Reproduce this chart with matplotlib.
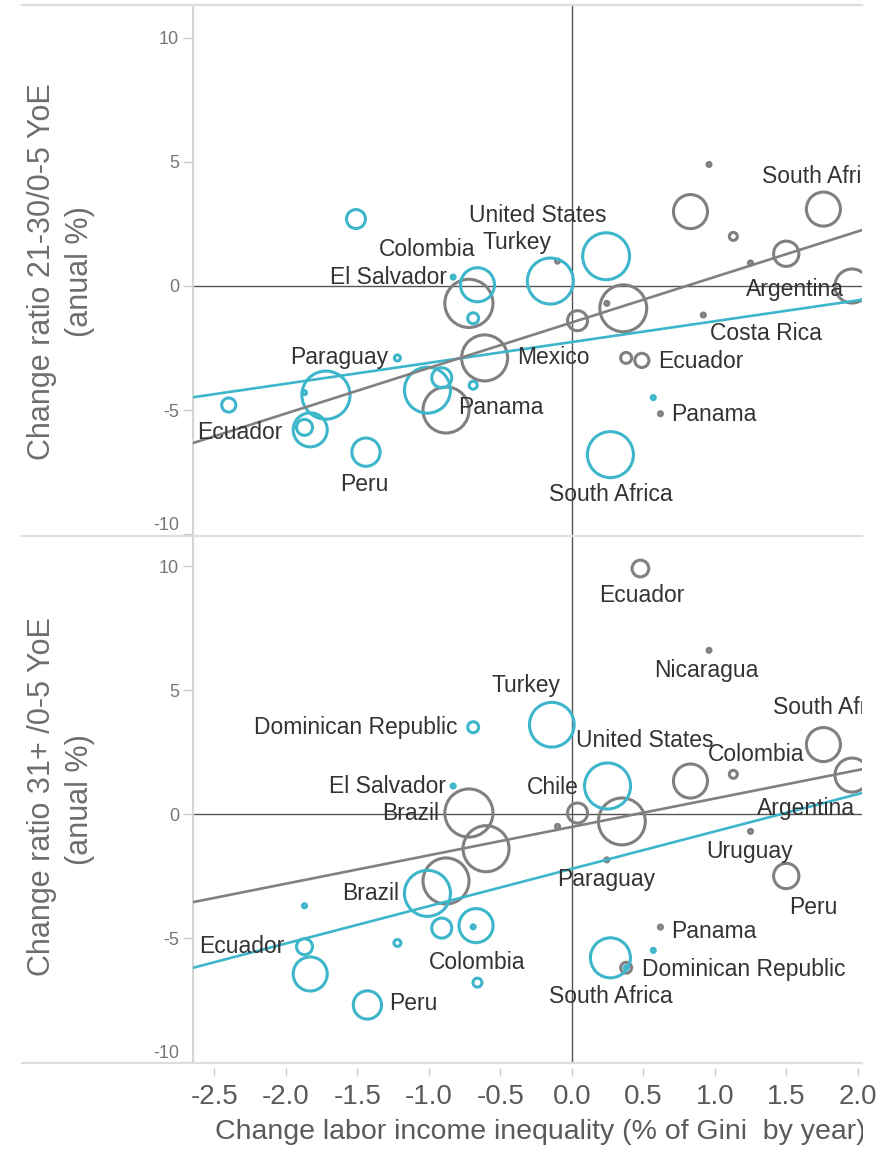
import matplotlib
matplotlib.use("Agg")
import matplotlib.pyplot as plt
import numpy as np
from matplotlib.lines import Line2D
from matplotlib.transforms import Bbox, TransformedBbox

plt.rcParams['font.family'] = ['Liberation Sans', 'DejaVu Sans']

TEAL = '#3db6cb'
GRAY = '#808080'
TEXT = '#333333'
AXIS_TEXT = '#6e6e6e'

# ---- top panel: change ratio 21-30 / 0-5 YoE ----
top_teal_x = [-2.40, -1.72, -1.87, -1.83, -1.87, -1.44, -1.22, -1.01, -0.91, -0.69,
              -0.66, -0.69, -0.83, -0.15, 0.24, -1.51, 0.57, 0.27]
top_teal_y = [-4.8, -4.4, -4.3, -5.8, -5.7, -6.7, -2.9, -4.2, -3.7, -4.0,
              0.05, -1.3, 0.36, 0.2, 1.2, 2.7, -4.5, -6.8]
top_teal_w = [0.5, 5.8, 0.04, 2.9, 0.64, 2.0, 0.09, 5.3, 1.0, 0.16,
              2.9, 0.3, 0.04, 5.3, 5.5, 0.9, 0.04, 5.3]

top_gray_x = [0.96, 0.83, 1.76, 1.13, 1.50, 1.25, 1.96, -0.10, 0.36, 0.245,
              0.04, 0.92, 0.38, 0.49, 0.62, -0.88, -0.61, -0.72]
top_gray_y = [4.9, 3.0, 3.1, 2.0, 1.3, 0.93, 0.0, 1.0, -0.9, -0.7,
              -1.4, -1.17, -2.9, -3.0, -5.15, -5.0, -2.9, -0.7]
top_gray_w = [0.04, 2.9, 2.9, 0.16, 1.6, 0.04, 2.9, 0.04, 5.5, 0.04,
              1.0, 0.04, 0.3, 0.5, 0.04, 5.3, 5.3, 5.8]

top_teal_trend = (0.84, -2.26)   # slope, intercept
top_gray_trend = (1.835, -1.47)

top_labels = [
    ("South Africa", 1.33, 4.4, 'left'),
    ("United States", -0.24, 2.86, 'center'),
    ("Turkey", -0.38, 1.77, 'center'),
    ("Colombia", -1.01, 1.49, 'center'),
    ("El Salvador", -0.87, 0.36, 'right'),
    ("Argentina", 1.56, -0.16, 'center'),
    ("Costa Rica", 1.36, -1.9, 'center'),
    ("Mexico", -0.13, -2.9, 'center'),
    ("Paraguay", -1.63, -2.9, 'center'),
    ("Ecuador", 0.90, -3.06, 'center'),
    ("Panama", -0.50, -4.9, 'center'),
    ("Panama", 0.99, -5.2, 'center'),
    ("Ecuador", -2.32, -5.9, 'center'),
    ("Peru", -1.45, -8.0, 'center'),
    ("South Africa", 0.27, -8.4, 'center'),
]

# ---- bottom panel: change ratio 31+ / 0-5 YoE ----
bot_teal_x = [-1.87, -1.01, -0.91, -0.67, -0.69, -1.22, -1.87, -1.83, -1.43, -0.66,
              0.27, 0.57, 0.38, -0.14, 0.25, -0.69, -0.83]
bot_teal_y = [-3.7, -3.2, -4.6, -4.5, -4.55, -5.2, -5.35, -6.45, -7.7, -6.8,
              -5.8, -5.5, -6.2, 3.6, 1.13, 3.5, 1.13]
bot_teal_w = [0.04, 5.3, 1.0, 2.9, 0.04, 0.12, 0.64, 2.9, 2.0, 0.2,
              4.0, 0.04, 0.04, 5.0, 5.3, 0.3, 0.04]

bot_gray_x = [0.48, 0.96, 1.76, 1.96, 0.83, 1.13, 0.04, 0.35, -0.10, 1.25,
              -0.72, -0.60, -0.88, 0.245, 1.50, 0.62, 0.38]
bot_gray_y = [9.9, 6.6, 2.8, 1.57, 1.33, 1.6, 0.04, -0.3, -0.5, -0.7,
              0.04, -1.4, -2.7, -1.85, -2.5, -4.56, -6.2]
bot_gray_w = [0.7, 0.04, 2.9, 2.9, 2.9, 0.16, 1.0, 5.5, 0.04, 0.04,
              5.8, 5.3, 5.3, 0.04, 1.6, 0.04, 0.3]

bot_teal_trend = (1.506, -2.21)
bot_gray_trend = (1.145, -0.52)

bot_labels = [
    ("Ecuador", 0.49, 8.8, 'center'),
    ("Nicaragua", 0.94, 5.77, 'center'),
    ("Turkey", -0.32, 5.2, 'center'),
    ("South Africa", 1.41, 4.3, 'left'),
    ("Dominican Republic", -0.80, 3.5, 'right'),
    ("United States", 0.51, 2.98, 'center'),
    ("Colombia", 1.29, 2.38, 'center'),
    ("El Salvador", -0.88, 1.09, 'right'),
    ("Chile", -0.13, 1.05, 'center'),
    ("Brazil", -1.13, 0.04, 'center'),
    ("Argentina", 1.64, 0.24, 'center'),
    ("Uruguay", 1.24, -1.53, 'center'),
    ("Paraguay", 0.24, -2.66, 'center'),
    ("Brazil", -1.41, -3.19, 'center'),
    ("Peru", 1.69, -3.75, 'center'),
    ("Panama", 0.99, -4.72, 'center'),
    ("Ecuador", -2.31, -5.36, 'center'),
    ("Colombia", -0.66, -5.97, 'center'),
    ("Dominican Republic", 1.20, -6.25, 'center'),
    ("South Africa", 0.27, -7.34, 'center'),
    ("Peru", -1.11, -7.66, 'center'),
]

x_ticks = [-2.5, -2.0, -1.5, -1.0, -0.5, 0.0, 0.5, 1.0, 1.5, 2.0]
y_ticks = [-10, -5, 0, 5, 10]
XLIM = (-2.65, 2.03)

W, H = 887, 1153
fig = plt.figure(figsize=(W / 100, H / 100), dpi=100)


def px_box(x0, y0, x1, y1):
    return [x0 / W, 1 - y1 / H, (x1 - x0) / W, (y1 - y0) / H]


def bubble_area(w):
    # ring radius in px grows with sqrt of weight, converted to points^2
    r = 10 * np.sqrt(np.asarray(w))
    return (2 * r / 1.389) ** 2


def draw_panel(ax, teal, gray, trends, labels, ylim):
    ax.set_xlim(*XLIM)
    ax.set_ylim(*ylim)
    ax.axhline(0, color='#555555', lw=1.0, zorder=1)
    ax.axvline(0, color='#555555', lw=1.0, zorder=1)
    for (xs, ys, ws), col in ((gray, GRAY), (teal, TEAL)):
        ax.scatter(xs, ys, s=bubble_area(ws), facecolors='none',
                   edgecolors=col, linewidths=2.2, zorder=3)
    xl = np.array(XLIM)
    for (slope, icpt), col in zip(trends, (TEAL, GRAY)):
        ax.plot(xl, slope * xl + icpt, color=col, lw=1.9, zorder=4)
    for txt, lx, ly, ha in labels:
        ax.text(lx, ly, txt, ha=ha, va='center', fontsize=16.5,
                color=TEXT, zorder=5, clip_on=True)
    for side in ('top', 'right', 'bottom'):
        ax.spines[side].set_visible(False)
    ax.spines['left'].set_color('#d4d4d4')
    ax.spines['left'].set_linewidth(1.5)
    ax.set_yticks(y_ticks)
    ax.set_yticklabels([str(t) for t in y_ticks])
    ax.tick_params(axis='y', length=7, width=1, color='#cccccc',
                   labelsize=13, labelcolor='#777777', pad=3)
    ax.get_yticklabels()[0].set_va('bottom')


ax_top = fig.add_axes(px_box(193, 5, 862, 535))
ax_bot = fig.add_axes(px_box(193, 537, 862, 1062))

draw_panel(ax_top, (top_teal_x, top_teal_y, top_teal_w),
           (top_gray_x, top_gray_y, top_gray_w),
           (top_teal_trend, top_gray_trend), top_labels, (-10.04, 11.33))
draw_panel(ax_bot, (bot_teal_x, bot_teal_y, bot_teal_w),
           (bot_gray_x, bot_gray_y, bot_gray_w),
           (bot_teal_trend, bot_gray_trend), bot_labels, (-10.0, 11.17))

ax_top.set_xticks([])
ax_bot.set_xticks(x_ticks)
ax_bot.set_xticklabels([f"{t:.1f}" for t in x_ticks])
ax_bot.spines['bottom'].set_position(('outward', 4))
ax_bot.tick_params(axis='x', length=6, width=1, color='#cccccc',
                   labelsize=20, labelcolor='#5a5a5a', pad=6)

# panel separators
for ypx in (5, 536, 1063):
    fig.add_artist(Line2D([22 / W, 862 / W], [1 - ypx / H] * 2,
                          color='#dddddd', lw=1.6))

# axis titles
fig.text(42 / W, 1 - 272 / H, "Change ratio 21-30/0-5 YoE", rotation=90,
         ha='center', va='center', fontsize=22, color=AXIS_TEXT)
fig.text(80 / W, 1 - 272 / H, "(anual %)", rotation=90,
         ha='center', va='center', fontsize=22, color=AXIS_TEXT)
fig.text(42 / W, 1 - 797 / H, "Change ratio 31+ /0-5 YoE", rotation=90,
         ha='center', va='center', fontsize=22, color=AXIS_TEXT)
fig.text(80 / W, 1 - 800 / H, "(anual %)", rotation=90,
         ha='center', va='center', fontsize=22, color=AXIS_TEXT)
xlab = fig.text(215 / W, 1 - 1132 / H,
                "Change labor income inequality (% of Gini  by year)",
                ha='left', va='center', fontsize=20.5, color='#5a5a5a')
# the sheet cuts the title at the plot's right edge
xlab.set_clip_box(TransformedBbox(Bbox([[0, 0], [863 / W, 1]]), fig.transFigure))
xlab.set_clip_on(True)

fig.savefig("out.png", dpi=100)
